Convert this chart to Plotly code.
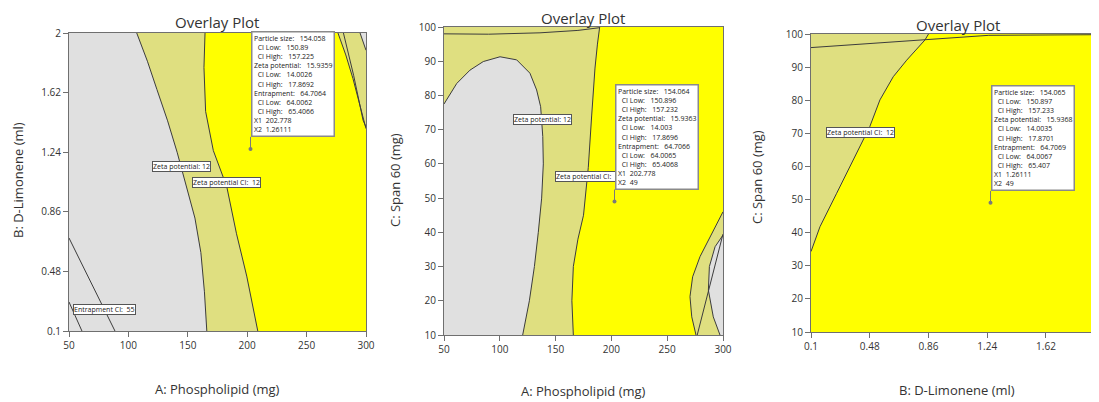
import plotly.graph_objects as go

# page body has an 8px margin: lay out in window pixels, then convert
OFF = 8
W, H = 1099 - OFF, 402 - OFF
GREY = "#e0e0e0"
KHAKI = "#dfdf80"
YELLOW = "#ffff00"
LINE = "#3c3c3c"
FONT = "Open Sans"

# ---------------- data ----------------
titles = ["Overlay Plot", "Overlay Plot", "Overlay Plot"]
x_titles = ["A: Phospholipid (mg)", "A: Phospholipid (mg)", "B: D-Limonene (ml)"]
y_titles = ["B: D-Limonene (ml)", "C: Span 60 (mg)", "C: Span 60 (mg)"]

phospho_ticks = [50, 100, 150, 200, 250, 300]
limonene_ticks = [0.1, 0.48, 0.86, 1.24, 1.62, 2]
span_ticks = [10, 20, 30, 40, 50, 60, 70, 80, 90, 100]

# Panel 1 (A vs B) contour boundaries
p1_zeta_x = [107, 116, 124, 133, 141, 149, 156, 161, 164, 166]
p1_zeta_y = [2.0, 1.82, 1.64, 1.44, 1.24, 1.02, 0.82, 0.6, 0.35, 0.1]
p1_zetaci_x = [164.5, 163.6, 165, 171.5, 182.8, 191, 199.6, 208.9]
p1_zetaci_y = [2.0, 1.78, 1.5, 1.25, 1.02, 0.72, 0.45, 0.1]
p1_right_x = [276.4, 283, 289, 294, 298, 300]
p1_right_y = [2.0, 1.86, 1.71, 1.56, 1.44, 1.39]
p1_line_a_x = [281, 289.6, 297.5, 300]
p1_line_a_y = [2.0, 1.73, 1.445, 1.40]
p1_line_b_x = [295, 300]
p1_line_b_y = [2.0, 1.89]
p1_entr1_x = [50, 88.7]
p1_entr1_y = [0.693, 0.1]
p1_entr2_x = [50, 60.9]
p1_entr2_y = [0.285, 0.1]

# Panel 2 (A vs C)
p2_blob_x = [50, 61.4, 73.3, 85.2, 100.2, 115.1, 127, 133, 136.6, 138.5, 139, 137.5, 134.5, 131, 126.5, 120.5]
p2_blob_y = [77.5, 83.5, 87.4, 89.9, 91.3, 90.4, 86.5, 81.6, 76.7, 68, 60, 50, 40, 30, 20, 10]
p2_zetaci_x = [165.9, 164.6, 165.9, 170, 175, 179.3, 182.3, 185.3, 187.5, 189.5]
p2_zetaci_y = [10, 20, 30, 38, 45, 59, 74, 88, 95, 100]
p2_lens_x = [300, 288.4, 279.4, 272.8, 270.4, 272, 275.8]
p2_lens_y = [46, 38.7, 32.9, 27, 21.2, 15.3, 10]
p2_arc_x = [297.3, 291.3, 286.9, 287.8, 292.9, 300]
p2_arc_y = [10, 15.3, 23.1, 30, 35.8, 39.2]
p2_diag_x = [276.9, 300]
p2_diag_y = [10, 39.5]
p2_top_x = [50, 90, 136, 170, 189.5]
p2_top_y = [98.0, 97.9, 98.3, 99.0, 99.8]

# Panel 3 (B vs C)
p3_zetaci_x = [0.1, 0.158, 0.266, 0.374, 0.48, 0.546, 0.632, 0.719, 0.837, 0.86]
p3_zetaci_y = [34.3, 41.8, 51.9, 61.9, 72, 80.1, 87.1, 92.1, 98.2, 100]
p3_top_x = [0.1, 0.837, 1.25, 2.0]
p3_top_y = [95.9, 98.2, 99.6, 99.8]

# Flag (selected point) values
particle_size = [154.058, 154.064, 154.065]
ps_ci_low = [150.89, 150.896, 150.897]
ps_ci_high = [157.225, 157.232, 157.233]
zeta = [15.9359, 15.9363, 15.9368]
zeta_ci_low = [14.0026, 14.003, 14.0035]
zeta_ci_high = [17.8692, 17.8696, 17.8701]
entrap = [64.7064, 64.7066, 64.7069]
entrap_ci_low = [64.0062, 64.0065, 64.0067]
entrap_ci_high = [65.4066, 65.4068, 65.407]
flag_x1 = [202.778, 202.778, 1.26111]
flag_x2 = [1.26111, 49, 49]

# ---------------- figure ----------------
fig = go.Figure()

def poly(xs, ys, color, ax):
    fig.add_trace(go.Scatter(x=xs, y=ys, fill="toself", fillcolor=color, mode="lines",
                             line=dict(width=0), hoverinfo="skip", showlegend=False,
                             xaxis="x" + ax, yaxis="y" + ax))

def cline(xs, ys, ax, w=1):
    fig.add_trace(go.Scatter(x=xs, y=ys, mode="lines", line=dict(color=LINE, width=w),
                             hoverinfo="skip", showlegend=False, xaxis="x" + ax, yaxis="y" + ax))

# background khaki for each panel
poly([50, 300, 300, 50], [0.1, 0.1, 2, 2], KHAKI, "")
poly([50, 300, 300, 50], [10, 10, 100, 100], KHAKI, "2")
poly([0.1, 2, 2, 0.1], [10, 10, 100, 100], KHAKI, "3")

# panel 1
poly([50] + p1_zeta_x + [50], [2] + p1_zeta_y + [0.1], GREY, "")
poly(p1_zetaci_x + [300] + p1_right_x[::-1], p1_zetaci_y + [0.1] + p1_right_y[::-1], YELLOW, "")
poly(p1_line_b_x + [300], p1_line_b_y + [2], GREY, "")
cline(p1_zeta_x, p1_zeta_y, "")
cline(p1_zetaci_x, p1_zetaci_y, "")
cline(p1_right_x, p1_right_y, "")
cline(p1_line_a_x, p1_line_a_y, "")
cline(p1_line_b_x, p1_line_b_y, "")
cline(p1_entr1_x, p1_entr1_y, "")
cline(p1_entr2_x, p1_entr2_y, "")

# panel 2
poly([50] + p2_blob_x, [10] + p2_blob_y, GREY, "2")
poly(p2_zetaci_x + [300] + p2_lens_x, p2_zetaci_y + [100] + p2_lens_y, YELLOW, "2")
poly(p2_arc_x + [300], p2_arc_y + [10], GREY, "2")
cline(p2_blob_x, p2_blob_y, "2")
cline(p2_zetaci_x, p2_zetaci_y, "2")
cline(p2_lens_x, p2_lens_y, "2")
cline(p2_arc_x, p2_arc_y, "2")
cline(p2_diag_x, p2_diag_y, "2")
cline(p2_top_x, p2_top_y, "2")

# panel 3
poly([0.1] + p3_zetaci_x + [2, 2], [10] + p3_zetaci_y + [100, 10], YELLOW, "3")
cline(p3_zetaci_x, p3_zetaci_y, "3")
cline(p3_top_x, p3_top_y, "3")

# flag points
for i, ax in enumerate(["", "2", "3"]):
    fig.add_trace(go.Scatter(x=[flag_x1[i]], y=[flag_x2[i]], mode="markers",
                             marker=dict(size=4, color="#7a7a7a"), hoverinfo="skip",
                             showlegend=False, xaxis="x" + ax, yaxis="y" + ax))

# ---------------- axes ----------------
def px_x(p):
    return (p - OFF) / W

def px_y(p):
    return 1 - (p - OFF) / H

axis_common = dict(showline=True, linecolor="#6f6f6f", linewidth=1, ticks="outside",
                   ticklen=5, tickcolor="#6f6f6f", showgrid=False, zeroline=False,
                   tickfont=dict(family=FONT, size=10, color="#333333"), automargin=False)

layout_axes = {
    "xaxis": dict(axis_common, domain=[px_x(69), px_x(366)], range=[50, 300], tickvals=phospho_ticks,
                  anchor="y", mirror=True),
    "yaxis": dict(axis_common, domain=[px_y(331), px_y(33)], range=[0.1, 2], tickvals=limonene_ticks,
                  ticktext=[str(v) for v in limonene_ticks], anchor="x", mirror=True),
    "xaxis2": dict(axis_common, domain=[px_x(444), px_x(723)], range=[50, 300], tickvals=phospho_ticks,
                   anchor="y2", mirror=True),
    "yaxis2": dict(axis_common, domain=[px_y(335), px_y(27)], range=[10, 100], tickvals=span_ticks,
                   anchor="x2", mirror=True),
    "xaxis3": dict(axis_common, domain=[px_x(811), 1.0], range=[0.1, 0.1 + 288 / 154.6],
                   tickvals=limonene_ticks, ticktext=[str(v) for v in limonene_ticks],
                   anchor="y3", mirror=True),
    "yaxis3": dict(axis_common, domain=[px_y(332), px_y(34)], range=[10, 100], tickvals=span_ticks,
                   anchor="x3", mirror=False),
}
fig.update_layout(**layout_axes)

ann = []
# titles and axis titles (pixel placement)
title_pos = [(217, 22), (583, 18), (958, 25)]
xt_pos = [(217, 389), (583, 391), (957, 390)]
yt_pos = [(18, 180), (395, 180), (757, 177)]
for i in range(3):
    common = dict(xref="paper", yref="paper", showarrow=False, xanchor="center", yanchor="middle")
    ann.append(dict(common, text=titles[i], x=px_x(title_pos[i][0]), y=px_y(title_pos[i][1]),
                    font=dict(family=FONT, size=15, color="#333333")))
    ann.append(dict(common, text=x_titles[i], x=px_x(xt_pos[i][0]), y=px_y(xt_pos[i][1]),
                    font=dict(family=FONT, size=13, color="#333333")))
    ann.append(dict(common, text=y_titles[i], x=px_x(yt_pos[i][0]), y=px_y(yt_pos[i][1]),
                    textangle=-90, font=dict(family=FONT, size=13, color="#333333")))

label_font = dict(family=FONT, size=7, color="#222222")
def label(text, x, y, ax, xanchor="center"):
    ann.append(dict(text=text, x=x, y=y, xref="x" + ax, yref="y" + ax, showarrow=False,
                    xanchor=xanchor, yanchor="middle", bgcolor="white", bordercolor="#555555",
                    borderwidth=1, borderpad=0, font=label_font))

label("Entrapment CI:\u00a0\u00a055", 53.5, 0.24, "", "left")
label("Zeta potential: 12", 144.3, 1.146, "")
label("Zeta potential CI:\u00a0\u00a012", 182.2, 1.05, "")
label("Zeta potential: 12", 138.3, 73.0, "2")
label("Zeta potential CI:\u00a0\u00a012", 149.5, 56.2, "2", "left")
label("Zeta potential CI:\u00a0\u00a012", 0.417, 70.1, "3")

sp = "\u00a0"
shapes = []
for i, ax in enumerate(["", "2", "3"]):
    lines = [
        f"Particle size:{sp*3}{particle_size[i]}",
        f"{sp*2}CI Low:{sp*3}{ps_ci_low[i]}",
        f"{sp*2}CI High:{sp*3}{ps_ci_high[i]}",
        f"Zeta potential:{sp*3}{zeta[i]}",
        f"{sp*2}CI Low:{sp*3}{zeta_ci_low[i]}",
        f"{sp*2}CI High:{sp*3}{zeta_ci_high[i]}",
        f"Entrapment:{sp*3}{entrap[i]}",
        f"{sp*2}CI Low:{sp*3}{entrap_ci_low[i]}",
        f"{sp*2}CI High:{sp*3}{entrap_ci_high[i]}",
        f"X1{sp*2}{flag_x1[i]}",
        f"X2{sp*2}{flag_x2[i]}",
    ]
    ann.append(dict(text="<br>".join(lines), x=flag_x1[i], y=flag_x2[i], xref="x" + ax, yref="y" + ax,
                    showarrow=False, xanchor="left", yanchor="bottom", yshift=12, align="left",
                    bgcolor="white", bordercolor="#8a8a8a", borderwidth=1.5, borderpad=1.5,
                    font=dict(family=FONT, size=7, color="#222222")))
    shapes.append(dict(type="line", xref="x" + ax, yref="y" + ax, x0=flag_x1[i], x1=flag_x1[i],
                       ysizemode="pixel", yanchor=flag_x2[i], y0=0, y1=12,
                       line=dict(color="#7a7a7a", width=1)))

fig.update_layout(annotations=ann, shapes=shapes, width=W, height=H,
                  margin=dict(l=0, r=0, t=0, b=0), paper_bgcolor="white", plot_bgcolor="white",
                  font=dict(family=FONT))

fig.write_html("out.html")
